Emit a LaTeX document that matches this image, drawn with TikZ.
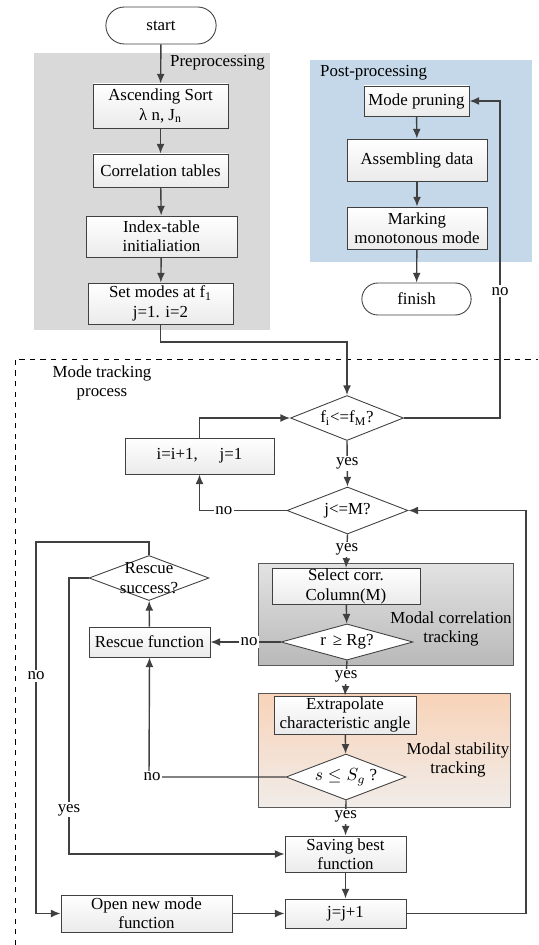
\documentclass[tikz,border=0pt]{standalone}
\usepackage{fontspec}
\setmainfont{Liberation Serif}
\usetikzlibrary{shapes.geometric,shapes.misc,arrows.meta}

\definecolor{linegray}{HTML}{404040}
\definecolor{preback}{HTML}{D9D9D9}
\definecolor{postback}{HTML}{C5D8E9}
\definecolor{stabtop}{HTML}{F8D3B8}
\definecolor{stabbottom}{HTML}{F1ECE9}

\begin{document}
\begin{tikzpicture}[x=0.02cm, y=-0.02cm, font=\fontsize{9.6}{11}\selectfont,
    >={Latex[length=5.5pt,width=4.5pt]},
    procbox/.style={draw=linegray, line width=.5pt, top color=white, bottom color=gray!16, align=center, inner sep=.5pt},
    decision/.style={draw=linegray, line width=.5pt, diamond, aspect=2.5, inner sep=0pt, fill=white},
    terminal/.style={draw=linegray, line width=.5pt, rounded rectangle, fill=white},
    flow/.style={draw=linegray, line width=.8pt, ->},
    plain/.style={draw=linegray, line width=.8pt},
    tag/.style={fill=white, inner sep=1pt}]

    \useasboundingbox (0,0) rectangle (538,945);

    % Panels
    \fill[preback] (34,53) rectangle (270,330);
    \fill[postback] (310,60) rectangle (532,262);
    \shade[top color=gray!22, bottom color=gray!55, draw=gray!70!black, line width=.4pt] (258,563) rectangle (513,665);
    \shade[top color=stabtop, bottom color=stabbottom, draw=gray!70!black, line width=.4pt] (258,693) rectangle (510,807);
    \draw[dashed, line width=.4pt] (15,945) -- (15,359) -- (538,359);

    \node[anchor=east] (prelabel) at (271,63) {Preprocessing};
    \node[anchor=west] (postlabel) at (314,73) {Post-processing};
    \node[align=center] (tracklabel) at (102,383) {Mode tracking\\process};
    \node[align=center] (corrlabel) at (451,629) {Modal correlation\\tracking};
    \node[align=center] (stablabel) at (458,760) {Modal stability\\tracking};

    % Preprocessing
    \node[terminal, minimum width=2.44cm, minimum height=.74cm] (start) at (161,25.5) {start};
    \node[procbox, minimum width=2.7cm, minimum height=.88cm] (asc) at (160.5,106) {Ascending Sort\\λ n, J\textsubscript{n}};
    \node[procbox, minimum width=2.7cm, minimum height=.66cm] (corr) at (160.5,170.5) {Correlation tables};
    \node[procbox, minimum width=3.02cm, minimum height=.82cm] (idx) at (161.5,236.5) {Index-table\\initialiation};
    \node[procbox, minimum width=2.9cm, minimum height=.82cm] (setm) at (160.5,303.5) {Set modes at f\textsubscript{1}\\j=1. i=2};

    % Post-processing
    \node[procbox, minimum width=2.1cm, minimum height=.6cm] (prune) at (416.5,101) {Mode pruning};
    \node[procbox, minimum width=2.8cm, minimum height=.84cm] (asm) at (417,160) {Assembling data};
    \node[procbox, minimum width=2.8cm, minimum height=.84cm] (mark) at (417,228) {Marking\\monotonous mode};
    \node[terminal, minimum width=2.42cm, minimum height=.64cm] (finish) at (416.5,299) {finish};

    % Mode tracking
    \node[decision, minimum width=2.26cm, minimum height=.9cm] (fdec) at (347,418) {f\textsubscript{i}<=f\textsubscript{M}?};
    \node[procbox, minimum width=2.98cm, minimum height=.72cm] (incr) at (199.5,456) {i=i+1,\hspace{1.3em}j=1};
    \node[decision, minimum width=2.42cm, minimum height=.94cm] (jdec) at (347.5,510.5) {j<=M?};
    \node[procbox, minimum width=2.96cm, minimum height=.7cm] (sel) at (346,586.5) {Select corr.\\Column(M)};
    \node[decision, minimum width=2.64cm, minimum height=.72cm] (rdec) at (347,642) {r \,≥ Rg?};
    \node[procbox, minimum width=2.42cm, minimum height=.6cm] (rescue) at (149.5,642) {Rescue function};
    \node[decision, minimum width=2.4cm, minimum height=.9cm,
      label={[align=center]center:Rescue\\success?}] (rsdec) at (149,578) {};
    \node[procbox, minimum width=2.84cm, minimum height=.76cm] (extr) at (345,715) {Extrapolate\\characteristic angle};
    \node[decision, minimum width=2.4cm, minimum height=.92cm] (sdec) at (346,777) {$s\leq S_{g}$ ?};
    \node[procbox, minimum width=2.42cm, minimum height=.72cm] (save) at (345.5,854) {Saving best\\function};
    \node[procbox, minimum width=2.42cm, minimum height=.58cm] (jinc) at (345.5,913.5) {j=j+1};
    \node[procbox, minimum width=3.42cm, minimum height=.74cm] (open) at (146.5,913.5) {Open new mode\\function};

    \coordinate (setbend) at (347,342);
    \coordinate (noturn) at (500,418);
    \coordinate (lefttop) at (36,542);
    \coordinate (yesturn) at (69,578);
    \coordinate (rescuecorner) at (149,777);
    \coordinate (rightturn) at (526,913.5);

    % Connectors
    \draw[flow] (start) -- (asc);
    \draw[flow] (asc) -- (corr);
    \draw[flow] (corr) -- (idx);
    \draw[flow] (idx) -- (setm);
    \draw[flow] (setm.south) |- (setbend) -- (fdec.north);
    \draw[flow] (prune) -- (asm);
    \draw[flow] (asm) -- (mark);
    \draw[flow] (mark) -- (finish);
    \draw[flow] (fdec.east) -- (noturn) |- node[tag, pos=.2] {no} (prune.east);
    \draw[flow] (fdec.south) -- node[tag] {yes} (jdec.north);
    \draw[flow] (jdec.west) -| node[tag, pos=.36] {no} (incr.south);
    \draw[flow] (incr.north) |- (fdec.west);
    \draw[flow] (jdec.south) -- node[tag, pos=.45] {yes} (sel.north);
    \draw[flow] (sel) -- (rdec);
    \draw[flow] (rdec.west) -- node[tag, pos=.45] {no} (rescue.east);
    \draw[flow] (rdec.south) -- node[tag, pos=.45] {yes} (extr.north);
    \draw[flow] (extr) -- (sdec);
    \draw[flow] (sdec.west) -- (rescuecorner) -- (rescue.south);
    \node[tag] (stabno) at (152,777) {no};
    \draw[flow] (rescue) -- (rsdec);
    \draw[flow] (rsdec.north) |- (lefttop) |- node[tag, pos=.18] {no} (open.west);
    \draw[flow] (rsdec.west) -- (yesturn) |- node[tag, pos=.42] {yes} (save.west);
    \draw[flow] (sdec.south) -- node[tag, pos=.45] {yes} (save.north);
    \draw[flow] (save) -- (jinc);
    \draw[flow] (open) -- (jinc);
    \draw[flow] (jinc.east) -- (rightturn) |- (jdec.east);

  \end{tikzpicture}
\end{document}
